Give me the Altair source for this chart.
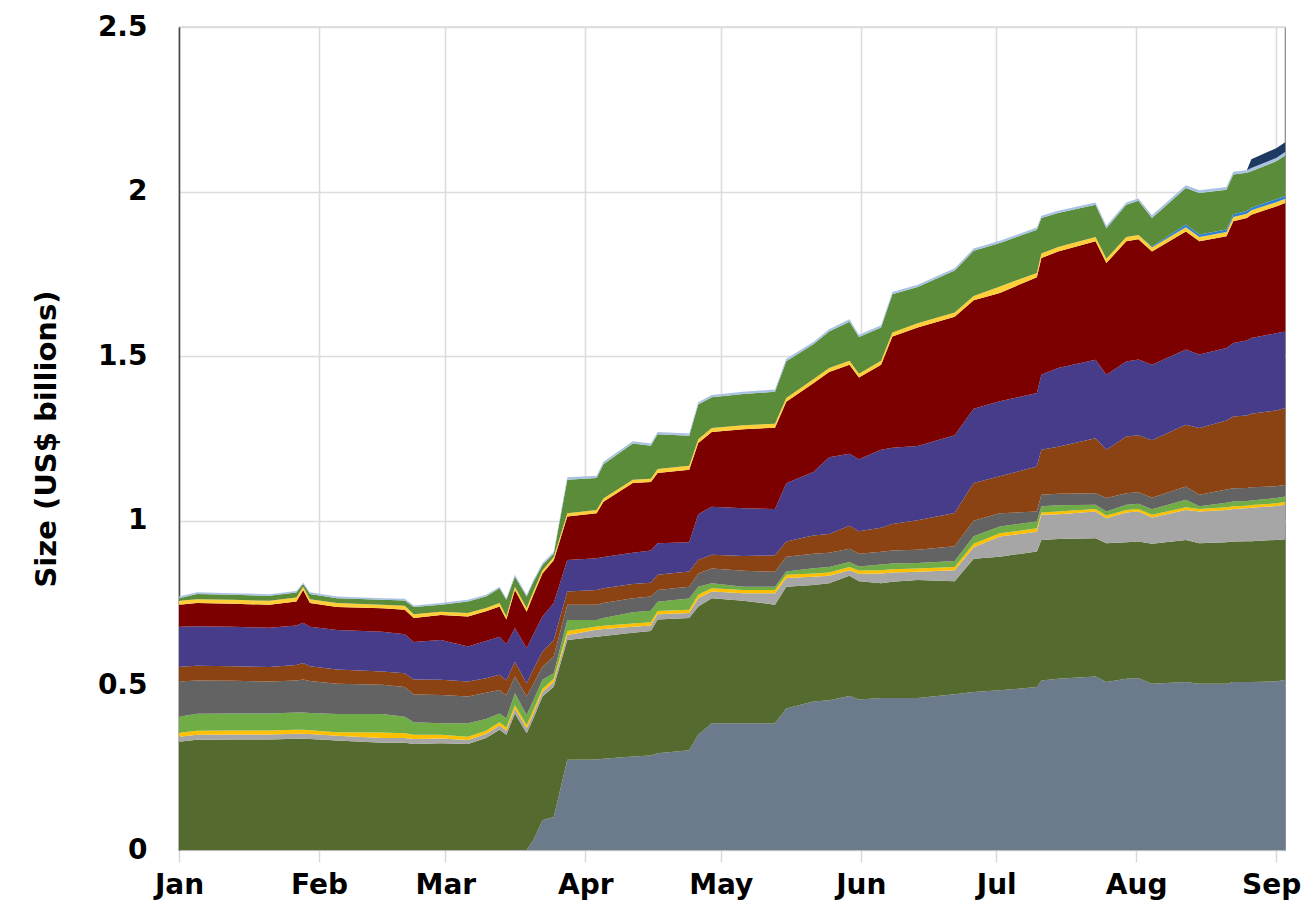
import altair as alt
import pandas as pd

# Day of year (0 = 1 Jan 2021) at which each reading was taken
days = [0, 4, 12, 20, 26, 27.5, 29, 35, 45, 50, 52, 58, 64, 68, 71, 72.5, 74.4, 77, 78.5, 80.5,
        83, 86, 92.5, 94, 100.5, 104.5, 106, 113, 115, 118, 125, 132, 134.5, 140.5, 144, 148.5,
        150.6, 155.5, 158, 163.6, 171.8, 176, 181.8, 190, 191, 194.7, 203, 205.4, 209.8, 212.5,
        215.5, 223, 226, 232, 233.5, 236.5, 237.5, 243, 245]

# Cumulative top of each stacked layer (US$ billions)
top_slate = [0, 0, 0, 0, 0, 0, 0, 0, 0, 0, 0, 0, 0, 0, 0, 0, 0, 0, .030, .090,
             .100, .274, .275, .277, .284, .287, .294, .303, .350, .385, .385, .385, .430, .451, .455, .468,
             .457, .462, .462, .462, .473, .480, .485, .495, .515, .520, .527, .510, .520, .522,
             .505, .510, .505, .505, .510, .510, .510, .512, .517]
top_olive = [.329, .335, .336, .336, .338, .338, .337, .333, .326, .326, .322, .324, .322, .340, .365, .350, .415, .355, .400, .466,
             .496, .638, .648, .650, .660, .665, .700, .705, .740, .765, .757, .745, .800, .805, .810, .833,
             .816, .810, .815, .820, .816, .885, .891, .907, .942, .945, .947, .932, .935, .937,
             .930, .942, .932, .935, .937, .938, .938, .942, .944]
top_lgray = [.344, .350, .351, .351, .353, .353, .352, .347, .340, .340, .337, .339, .334, .352, .378, .362, .430, .370, .415, .480,
             .510, .653, .669, .671, .678, .682, .716, .720, .765, .785, .780, .780, .826, .830, .833, .850,
             .839, .840, .843, .845, .850, .920, .952, .967, 1.018, 1.020, 1.028, 1.008, 1.025, 1.028,
             1.010, 1.033, 1.028, 1.033, 1.036, 1.038, 1.040, 1.045, 1.049]
top_yellow = [.356, .362, .363, .363, .365, .365, .364, .358, .357, .355, .350, .350, .344, .362, .388, .372, .440, .380, .425, .490,
              .520, .665, .679, .681, .688, .692, .726, .730, .775, .795, .790, .790, .836, .840, .843, .860,
              .849, .850, .853, .855, .860, .930, .962, .977, 1.025, 1.028, 1.036, 1.016, 1.033, 1.036,
              1.018, 1.041, 1.036, 1.041, 1.044, 1.046, 1.048, 1.053, 1.057]
top_lgreen = [.405, .414, .415, .415, .418, .418, .416, .413, .413, .405, .388, .385, .385, .398, .415, .400, .476, .410, .455, .517,
              .537, .699, .699, .705, .722, .727, .754, .764, .800, .810, .800, .800, .846, .856, .860, .875,
              .861, .867, .870, .872, .878, .953, .983, .998, 1.044, 1.047, 1.049, 1.028, 1.049, 1.052,
              1.035, 1.064, 1.044, 1.055, 1.059, 1.060, 1.062, 1.069, 1.074]
top_dgray = [.512, .515, .514, .512, .515, .518, .513, .505, .502, .495, .472, .471, .466, .478, .486, .470, .527, .466, .505, .557,
             .588, .745, .745, .750, .765, .770, .790, .800, .840, .855, .848, .845, .891, .900, .903, .915,
             .900, .906, .910, .912, .923, 1.000, 1.023, 1.028, 1.079, 1.082, 1.084, 1.069, 1.084, 1.087,
             1.070, 1.104, 1.079, 1.095, 1.099, 1.100, 1.102, 1.105, 1.109]
top_brown = [.557, .560, .558, .556, .562, .568, .558, .548, .542, .537, .518, .517, .512, .522, .532, .515, .572, .506, .550, .602,
             .638, .785, .790, .795, .808, .812, .836, .846, .881, .897, .893, .895, .937, .955, .960, .985,
             .968, .979, .990, 1.002, 1.024, 1.115, 1.135, 1.165, 1.216, 1.225, 1.251, 1.216, 1.256, 1.260,
             1.245, 1.292, 1.282, 1.305, 1.317, 1.320, 1.325, 1.335, 1.343]
top_purple = [.678, .680, .678, .675, .682, .690, .678, .668, .663, .655, .632, .638, .618, .635, .648, .625, .674, .613, .655, .709,
              .750, .881, .886, .890, .903, .910, .932, .935, 1.020, 1.043, 1.038, 1.036, 1.114, 1.148, 1.193, 1.204,
              1.187, 1.216, 1.222, 1.227, 1.260, 1.340, 1.363, 1.388, 1.444, 1.464, 1.489, 1.444, 1.484, 1.490,
              1.474, 1.520, 1.505, 1.525, 1.540, 1.548, 1.555, 1.570, 1.575]
top_maroon = [.745, .750, .748, .745, .755, .790, .750, .738, .734, .730, .705, .714, .709, .725, .740, .700, .790, .724, .775, .840,
              .880, 1.013, 1.023, 1.058, 1.115, 1.118, 1.145, 1.155, 1.236, 1.270, 1.278, 1.283, 1.362, 1.418, 1.452, 1.474,
              1.435, 1.474, 1.560, 1.587, 1.620, 1.670, 1.692, 1.740, 1.798, 1.818, 1.849, 1.783, 1.849, 1.855,
              1.818, 1.879, 1.849, 1.864, 1.910, 1.920, 1.930, 1.955, 1.965]
top_gold = [.757, .762, .760, .757, .767, .800, .762, .750, .745, .742, .716, .724, .720, .735, .750, .710, .800, .735, .786, .850,
            .890, 1.023, 1.033, 1.068, 1.125, 1.128, 1.157, 1.167, 1.248, 1.282, 1.290, 1.295, 1.373, 1.430, 1.464, 1.486,
            1.447, 1.486, 1.572, 1.600, 1.633, 1.683, 1.712, 1.753, 1.812, 1.832, 1.862, 1.796, 1.862, 1.868,
            1.830, 1.892, 1.862, 1.877, 1.923, 1.933, 1.943, 1.968, 1.978]
top_blue = [.757, .762, .760, .757, .767, .800, .762, .750, .745, .742, .716, .724, .720, .735, .750, .710, .800, .735, .786, .850,
            .890, 1.023, 1.033, 1.068, 1.125, 1.128, 1.157, 1.167, 1.248, 1.282, 1.290, 1.295, 1.373, 1.430, 1.464, 1.486,
            1.447, 1.486, 1.572, 1.600, 1.633, 1.683, 1.712, 1.753, 1.812, 1.832, 1.862, 1.796, 1.862, 1.868,
            1.833, 1.900, 1.870, 1.885, 1.931, 1.941, 1.951, 1.977, 1.987]
top_green = [.765, .778, .775, .772, .782, .808, .778, .765, .760, .758, .738, .745, .755, .770, .795, .760, .830, .770, .815, .866,
             .900, 1.125, 1.130, 1.172, 1.235, 1.228, 1.263, 1.258, 1.353, 1.375, 1.385, 1.392, 1.485, 1.536, 1.575, 1.605,
             1.558, 1.587, 1.688, 1.710, 1.760, 1.820, 1.844, 1.884, 1.920, 1.935, 1.960, 1.889, 1.960, 1.972,
             1.920, 2.011, 1.996, 2.006, 2.052, 2.057, 2.062, 2.092, 2.110]
top_lblue = [.770, .783, .780, .777, .787, .812, .783, .770, .765, .763, .743, .750, .760, .775, .800, .765, .836, .775, .820, .872,
             .906, 1.132, 1.137, 1.179, 1.242, 1.235, 1.270, 1.265, 1.360, 1.382, 1.392, 1.399, 1.492, 1.543, 1.582, 1.612,
             1.565, 1.594, 1.695, 1.717, 1.767, 1.827, 1.851, 1.891, 1.927, 1.942, 1.967, 1.896, 1.967, 1.979,
             1.928, 2.019, 2.004, 2.014, 2.060, 2.065, 2.072, 2.102, 2.120]
top_navy = [.770, .783, .780, .777, .787, .812, .783, .770, .765, .763, .743, .750, .760, .775, .800, .765, .836, .775, .820, .872,
            .906, 1.132, 1.137, 1.179, 1.242, 1.235, 1.270, 1.265, 1.360, 1.382, 1.392, 1.399, 1.492, 1.543, 1.582, 1.612,
            1.565, 1.594, 1.695, 1.717, 1.767, 1.827, 1.851, 1.891, 1.927, 1.942, 1.967, 1.896, 1.967, 1.979,
            1.928, 2.019, 2.004, 2.014, 2.060, 2.065, 2.098, 2.132, 2.150]

series_names = ["S01", "S02", "S03", "S04", "S05", "S06", "S07", "S08", "S09", "S10", "S11", "S12", "S13", "S14"]
series_colors = ["#6C7B8B", "#556A2E", "#A6A6A6", "#FFC000", "#70AD47", "#636363", "#8B4313",
                 "#473C8A", "#7D0000", "#FFCF3A", "#2E7FD6", "#5B8C3A", "#A9C1E2", "#1F3A62"]
tops = [top_slate, top_olive, top_lgray, top_yellow, top_lgreen, top_dgray, top_brown,
        top_purple, top_maroon, top_gold, top_blue, top_green, top_lblue, top_navy]

start = pd.Timestamp("2021-01-01")
rows = []
for k, name in enumerate(series_names):
    for i, d in enumerate(days):
        below = tops[k - 1][i] if k > 0 else 0.0
        rows.append({
            "date": start + pd.to_timedelta(d, unit="D"),
            "series": name,
            "order": k,
            "value": max(tops[k][i] - below, 0.0),
        })
df = pd.DataFrame(rows)

FONT = "DejaVu Sans"

month_ticks = [alt.DateTime(year=2021, month=m, date=1) for m in range(1, 10)]

chart = alt.Chart(df).mark_area(interpolate="linear", strokeWidth=0).encode(
    x=alt.X("date:T",
            scale=alt.Scale(domain=[alt.DateTime(year=2021, month=1, date=1),
                                    alt.DateTime(year=2021, month=9, date=2, hours=23)]),
            axis=alt.Axis(values=month_ticks, format="%b", title=None,
                          labelFont=FONT, labelFontSize=28, labelFontWeight="bold",
                          labelColor="#000000", labelPadding=9, tickSize=12,
                          tickColor="#D9D9D9", tickWidth=1.5,
                          gridColor="#DCDCDC", gridWidth=1.6,
                          domainColor="#BBBBBB", labelFlush=False,
                          labelOffset={"condition": {"test": "datum.label == 'Sep'", "value": -5},
                                       "value": 0})),
    y=alt.Y("value:Q", stack="zero",
            scale=alt.Scale(domain=[0, 2.5], nice=False),
            axis=alt.Axis(values=[0, 0.5, 1, 1.5, 2, 2.5], format="~g",
                          title="Size (US$ billions)",
                          titleFont=FONT, titleFontSize=29, titleFontWeight="bold",
                          titleColor="#000000", titlePadding=36,
                          labelFont=FONT, labelFontSize=28, labelFontWeight="bold",
                          labelColor="#000000", labelPadding=32, ticks=False,
                          gridColor="#DCDCDC", gridWidth=1.6,
                          domainColor="#444444", domainWidth=1.5)),
    color=alt.Color("series:N",
                    scale=alt.Scale(domain=series_names, range=series_colors),
                    legend=None),
    order=alt.Order("order:Q"),
).properties(
    width=1106,
    height=823,
    autosize=alt.AutoSizeParams(type="none"),
    padding={"left": 171, "top": 19, "right": 17, "bottom": 55},
).configure_view(
    stroke="#888888", strokeWidth=1.2
)

chart.save("out.html", embed_options={"renderer": "svg", "actions": False})
